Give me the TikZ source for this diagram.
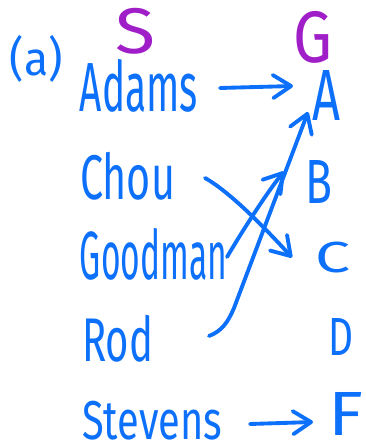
\documentclass[tikz,border=0pt]{standalone}
\usepackage{fontspec}
\setmainfont{Fira Sans}
\usetikzlibrary{arrows.meta,calc}
\definecolor{pen}{RGB}{12,112,250}
\definecolor{pur}{RGB}{160,30,200}
\newlength\pxu
\setlength\pxu{0.02cm}
\newcommand{\hw}[3]{\resizebox*{#1\pxu}{#2\pxu}{#3}}
\tikzset{
  lbl/.style={inner sep=0pt, outer sep=0pt, text=pen},
  sg/.style={inner sep=0pt, outer sep=0pt, text=pur},
  arr/.style={draw=pen, line width=2.2pt, line cap=round, line join=round,
    -{Straight Barb[length=0.36cm,width=0.46cm,line cap=round,line join=round]}}
}
\begin{document}
\begin{tikzpicture}[x=0.02cm,y=-0.02cm]
\useasboundingbox (0,0) rectangle (365,445);
\node[lbl] (lab) at (36.5,58.5) {\hw{53}{47}{(a)}};
\node[sg] (S) at (135,31) {\hw{40}{46}{S}};
\node[sg] (G) at (312.5,37) {\hw{39}{52}{G}};
\node[lbl] (Adams) at (139,85.5) {\hw{118}{53}{Adams}};
\node[lbl] (A) at (326,95) {\hw{28}{50}{A}};
\node[lbl] (Chou) at (127.5,176) {\hw{95}{48}{Chou}};
\node[lbl] (B) at (318.5,181.5) {\hw{27}{43}{B}};
\node[lbl] (Goodman) at (153.5,254) {\hw{147}{52}{Goodman}};
\node[lbl] (C) at (332.5,257.5) {\hw{35}{31}{C}};
\node[lbl] (Rod) at (117.5,338.5) {\hw{71}{47}{Rod}};
\node[lbl] (D) at (340.5,336.5) {\hw{25}{37}{D}};
\node[lbl] (Stevens) at (152,420.5) {\hw{140}{39}{Stevens}};
\node[lbl] (F) at (345.5,413.5) {\hw{35}{43}{F}};
% connectors
\draw[arr] ($(Adams.east)+(22,2.5)$) -- ($(A.west)+(-19,-9)$);
\draw[arr] ($(Chou.east)+(30,2)$) .. controls (230,192) and (265,228) .. ($(C.west)+(-23,0)$);
\draw[arr] ($(Goodman.east)+(0,3)$) .. controls (240,235) and (265,195) .. ($(B.west)+(-21,-10)$);
\draw[arr] ($(Rod.east)+(56,-2.5)$) .. controls (222,331) and (228,322) .. (234,308) -- ($(A.south west)+(-4,-8)$);
\draw[arr] ($(Stevens.east)+(28,3.5)$) -- ($(F.west)+(-15,8.5)$);
\end{tikzpicture}
\end{document}
